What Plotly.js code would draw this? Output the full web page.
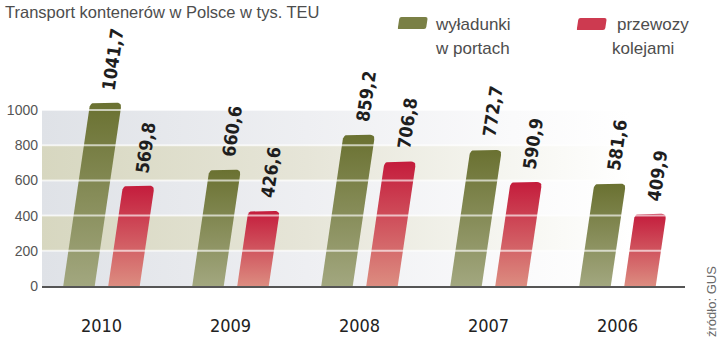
<!DOCTYPE html>
<html>
<head>
<meta charset="utf-8">
<script src="https://cdn.plot.ly/plotly-3.0.1.min.js"></script>
<style>html,body{margin:0;padding:0;background:#fff;}#chart{width:720px;height:354px;}</style>
</head>
<body>
<div id="chart"></div>
<script>
// ---- data ----
const years = ['2010', '2009', '2008', '2007', '2006'];
const ports = [1041.7, 660.6, 859.2, 772.7, 581.6];   // wyładunki w portach
const rail = [569.8, 426.6, 706.8, 590.9, 409.9];     // przewozy kolejami
const yTicks = [0, 200, 400, 600, 800, 1000];
const chartTitle = 'Transport kontenerów w Polsce w tys. TEU';
const portsName = ['wyładunki', 'w portach'];
const railName = ['przewozy', 'kolejami'];
const sourceText = 'źródło: GUS';

// ---- layout constants ----
const W = 720, H = 354;
const M = {l: 42, r: 35, t: 22, b: 68};
const xRange = [-0.461, 4.523];
const yRange = [0, 1500];
const plotW = W - M.l - M.r, plotH = H - M.t - M.b;
const pxX = plotW / (xRange[1] - xRange[0]);
const pxY = plotH / (yRange[1] - yRange[0]);
const BW = 31.5, OFF = 22.5, K = 0.147, R = 5;
const ANG = -(90 - Math.atan(K) * 180 / Math.PI);

const greenScale = [[0, '#a2a77f'], [1, '#6a7131']];
const redScale = [[0, '#dc8c80'], [1, '#c41c3c']];

function fmt(v) { return v.toFixed(1).replace('.', ','); }

function barTrace(i, v, offPx, scale) {
  const h = v * pxY;
  const pts = [];
  pts.push([-BW / 2, 0], [BW / 2, 0]);
  const tr0 = [BW / 2 + K * (h - R), h - R], trc = [BW / 2 + K * h, h], tr1 = [BW / 2 + K * h - R, h];
  const tl0 = [-BW / 2 + K * h + R, h], tlc = [-BW / 2 + K * h, h], tl1 = [-BW / 2 + K * (h - R), h - R];
  function quad(a, c, b) {
    for (let s = 0; s <= 6; s++) {
      const t = s / 6;
      pts.push([(1 - t) * (1 - t) * a[0] + 2 * (1 - t) * t * c[0] + t * t * b[0],
                (1 - t) * (1 - t) * a[1] + 2 * (1 - t) * t * c[1] + t * t * b[1]]);
    }
  }
  quad(tr0, trc, tr1);
  quad(tl0, tlc, tl1);
  pts.push([-BW / 2, 0]);
  return {
    type: 'scatter', mode: 'lines', fill: 'toself',
    x: pts.map(p => i + (offPx + p[0]) / pxX),
    y: pts.map(p => p[1] / pxY),
    line: {width: 0, color: 'rgba(0,0,0,0)'},
    fillgradient: {type: 'vertical', colorscale: scale, start: 0, stop: v},
    hoverinfo: 'skip', showlegend: false
  };
}

const traces = [];
// background bands
for (let b = 0; b < yTicks.length - 1; b++) {
  const beige = b % 2 === 1;
  traces.push({
    type: 'scatter', mode: 'lines', fill: 'toself',
    x: [xRange[0], xRange[1], xRange[1], xRange[0], xRange[0]],
    y: [yTicks[b], yTicks[b], yTicks[b + 1], yTicks[b + 1], yTicks[b]],
    line: {width: 0, color: 'rgba(0,0,0,0)'},
    fillgradient: {
      type: 'horizontal',
      colorscale: beige
        ? [[0, '#d7d7c0'], [0.45, '#e6e5d8'], [0.8, '#f6f6f1'], [1, '#ffffff']]
        : [[0, '#dfe2e7'], [0.45, '#eeeff2'], [0.8, '#fafafb'], [1, '#ffffff']],
      start: xRange[0], stop: 4.1
    },
    hoverinfo: 'skip', showlegend: false
  });
}
// bars
years.forEach((y, i) => {
  traces.push(barTrace(i, ports[i], -OFF, greenScale));
  traces.push(barTrace(i, rail[i], OFF, redScale));
});
// grid lines drawn over bars
yTicks.slice(1).forEach(t => {
  traces.push({
    type: 'scatter', mode: 'lines',
    x: [xRange[0], xRange[1]], y: [t, t],
    line: {color: 'rgba(255,255,255,0.65)', width: 2},
    hoverinfo: 'skip', showlegend: false
  });
});

const annotations = [];
const labelFont = {family: 'DejaVu Sans Condensed, DejaVu Sans', size: 18, color: '#1e1e1e', weight: 'bold'};
years.forEach((y, i) => {
  [[ports[i], -OFF], [rail[i], OFF]].forEach(([v, o]) => {
    const h = v * pxY;
    annotations.push({
      x: i + (o + K * h) / pxX, y: v, xref: 'x', yref: 'y',
      text: fmt(v), showarrow: false, textangle: ANG,
      xanchor: 'center', yanchor: 'bottom', xshift: 7, yshift: 9,
      font: labelFont
    });
  });
});

function paperX(px) { return (px - M.l) / plotW; }
function paperY(py) { return (H - M.b - py) / plotH; }
const legFont = {family: 'Liberation Sans, Arial, sans-serif', size: 17, color: '#4d4d4d'};
[[portsName[0], 433, 25], [portsName[1], 433, 48], [railName[0], 615, 25], [railName[1], 610, 48]].forEach(([t, px, py]) => {
  annotations.push({x: paperX(px), y: paperY(py), xref: 'paper', yref: 'paper', text: t, showarrow: false,
    xanchor: 'left', yanchor: 'middle', font: legFont});
});
annotations.push({x: paperX(711), y: paperY(302), xref: 'paper', yref: 'paper', text: sourceText, showarrow: false,
  textangle: -90, xanchor: 'center', yanchor: 'middle', font: {family: 'Liberation Sans, Arial, sans-serif', size: 13, color: '#6a6a6a'}});

function swatch(px, py, color) {
  return {
    type: 'path', xref: 'paper', yref: 'paper', xsizemode: 'pixel', ysizemode: 'pixel',
    xanchor: paperX(px), yanchor: paperY(py),
    path: 'M0,0 L26,0 Q28,0 28.3,2 L29.5,10 Q29.8,12 27.5,12 L3.5,12 Q1.5,12 1.2,10 L0,2 Q-0.2,0 0,0 Z',
    fillcolor: color, line: {width: 0}, layer: 'above'
  };
}

const layout = {
  width: W, height: H,
  margin: M,
  paper_bgcolor: '#ffffff', plot_bgcolor: '#ffffff',
  title: {text: chartTitle, x: 5 / W, xanchor: 'left', xref: 'container', y: 1 - 12 / H, yanchor: 'middle', yref: 'container',
    font: {family: 'Liberation Sans, Arial, sans-serif', size: 16.5, color: '#4d4d4d'}},
  showlegend: false,
  xaxis: {range: xRange, tickvals: years.map((y, i) => i), ticktext: years, showgrid: false, zeroline: false,
    showline: true, linecolor: '#555555', linewidth: 2, ticks: '', ticklabelstandoff: 22, layer: 'above traces',
    tickfont: {family: 'DejaVu Sans Condensed, DejaVu Sans', size: 18, color: '#222222'}, fixedrange: true},
  yaxis: {range: yRange, tickvals: yTicks, ticktext: yTicks.map(String), showgrid: false, zeroline: false,
    ticks: '', ticklabelstandoff: 3,
    tickfont: {family: 'Liberation Sans, Arial, sans-serif', size: 14, color: '#555555'}, fixedrange: true},
  annotations: annotations,
  shapes: [swatch(398, 29, '#7a8045'), swatch(577, 30, '#cd3a50')]
};

Plotly.newPlot('chart', traces, layout, {displayModeBar: false, staticPlot: true});
</script>
</body>
</html>
